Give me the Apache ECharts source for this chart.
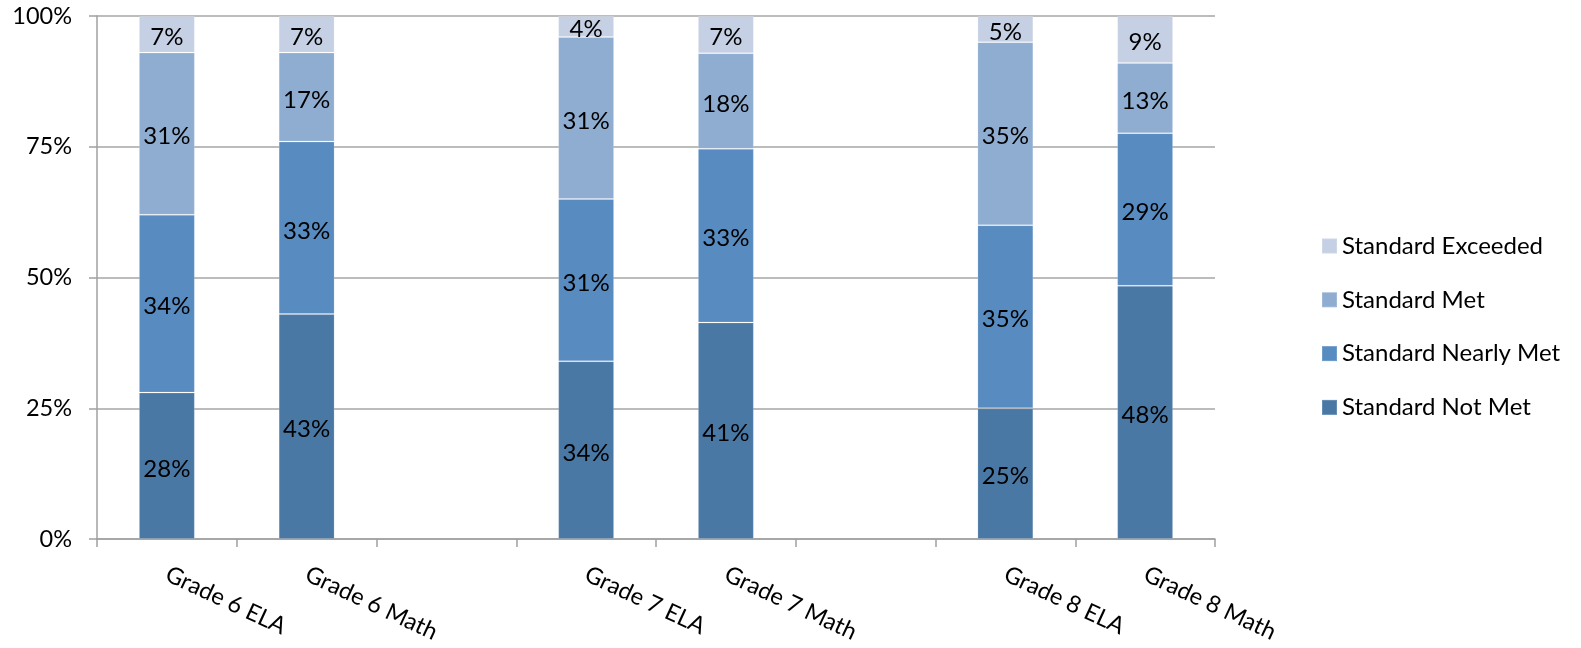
<!DOCTYPE html>
<html>
<head>
<meta charset="utf-8">
<script src="https://cdn.jsdelivr.net/npm/echarts@6/dist/echarts.min.js"></script>
<style>
html,body{margin:0;padding:0;background:#fff;}
#chart{width:1581px;height:648px;}
</style>
</head>
<body>
<div id="chart"></div>
<script>
const categories = ['Grade 6 ELA', 'Grade 6 Math', '', 'Grade 7 ELA', 'Grade 7 Math', '', 'Grade 8 ELA', 'Grade 8 Math'];
const seriesNames = ['Standard Not Met', 'Standard Nearly Met', 'Standard Met', 'Standard Exceeded'];
const notMet    = [28, 43, null, 34, 41.4, null, 25, 48.4];
const nearlyMet = [34, 33, null, 31, 33.2, null, 35, 29.2];
const met       = [31, 17, null, 31, 18.3, null, 35, 13.4];
const exceeded  = [7, 7, null, 4, 7.1, null, 5, 9.0];
const yTicks = [0, 25, 50, 75, 100];
const colors = ['#4A78A5', '#588BC0', '#8FADD1', '#C6D0E4'];

const FONT = 'Lato';
const values = [notMet, nearlyMet, met, exceeded];

const chart = echarts.init(document.getElementById('chart'), null, {renderer: 'canvas'});
chart.setOption({
  animation: false,
  backgroundColor: '#ffffff',
  textStyle: {fontFamily: FONT},
  grid: {left: 97, right: 366, top: 16, bottom: 109, containLabel: false, outerBoundsMode: 'none'},
  legend: {
    orient: 'vertical',
    left: 1321,
    top: 233,
    padding: 0,
    itemWidth: 15,
    itemHeight: 15,
    itemGap: 27.8,
    icon: 'rect',
    data: seriesNames.slice().reverse(),
    textStyle: {fontFamily: FONT, fontSize: 24, color: '#000', lineHeight: 26}
  },
  xAxis: {
    type: 'category',
    data: categories,
    axisLine: {show: true, lineStyle: {color: '#A0A0A0', width: 1.5}},
    axisTick: {show: true, interval: 0, alignWithLabel: false, length: 8, lineStyle: {color: '#A0A0A0', width: 1.5}},
    axisLabel: {interval: 0, rotate: -25, margin: 34, fontFamily: FONT, fontSize: 23.5, color: '#000'},
    splitLine: {show: false}
  },
  yAxis: {
    type: 'value',
    min: yTicks[0],
    max: yTicks[yTicks.length - 1],
    interval: yTicks[1] - yTicks[0],
    axisLine: {show: true, lineStyle: {color: '#A0A0A0', width: 1.5}},
    axisTick: {show: true, length: 8, lineStyle: {color: '#A0A0A0', width: 1.5}},
    axisLabel: {formatter: '{value}%', margin: 25, fontFamily: FONT, fontSize: 23.5, color: '#000'},
    splitLine: {show: true, lineStyle: {color: '#A6A6A6', width: 1.5}}
  },
  series: seriesNames.map((name, i) => ({
    name: name,
    type: 'bar',
    stack: 'total',
    barWidth: '40%',
    data: values[i],
    itemStyle: {color: colors[i], borderColor: 'rgba(255,255,255,0.15)', borderWidth: 1},
    label: {
      show: true,
      position: 'inside',
      offset: [0, 3],
      fontFamily: FONT,
      fontSize: 24,
      color: '#000',
      formatter: p => (p.value == null ? '' : Math.round(p.value) + '%')
    }
  }))
});
</script>
</body>
</html>
